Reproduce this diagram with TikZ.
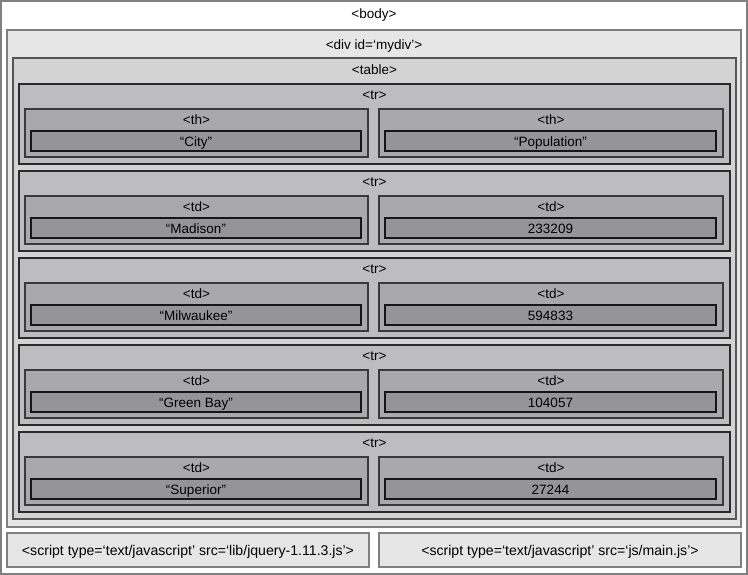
\documentclass[tikz,border=0pt]{standalone}
\usepackage{fontspec}
\setmainfont{Liberation Sans}
\usetikzlibrary{fit}

\definecolor{bodyline}{HTML}{808080}
\definecolor{divfill}{HTML}{E6E6E6}
\definecolor{divline}{HTML}{7F7F7F}
\definecolor{tablefill}{HTML}{D3D3D4}
\definecolor{tableline}{HTML}{555555}
\definecolor{trfill}{HTML}{BDBDC0}
\definecolor{trline}{HTML}{2A2A2A}
\definecolor{cellfill}{HTML}{A9A9AB}
\definecolor{cellline}{HTML}{3A3A3A}
\definecolor{valfill}{HTML}{959597}
\definecolor{valline}{HTML}{161616}

% a rectangle spanning (x1,y1)-(x2,y2), given as a named node
\newcommand\domregion[6]{%
  \path (#3,#4) coordinate (#1-nw) (#5,#6) coordinate (#1-se);
  \node[#2, fit=(#1-nw)(#1-se), inner sep=0pt] (#1) {};
}

\begin{document}
\begin{tikzpicture}[x=1pt, y=-1pt,
  tagtext/.style={font=\fontsize{13.5}{16}\selectfont, inner sep=0pt, anchor=base, text=black},
  scripttext/.style={tagtext, font=\fontsize{14.1}{16}\selectfont},
  bodybox/.style={draw=bodyline, fill=white, line width=2pt},
  divbox/.style={draw=divline, fill=divfill, line width=1.8pt},
  tablebox/.style={draw=tableline, fill=tablefill, line width=1.5pt},
  trbox/.style={draw=trline, fill=trfill, line width=1.2pt},
  cellbox/.style={draw=cellline, fill=cellfill, line width=1.2pt},
  valbox/.style={draw=valline, fill=valfill, line width=1.5pt},
  scriptbox/.style={draw=divline, fill=divfill, line width=1.5pt}]

\useasboundingbox (0,0) rectangle (748,575);

% page structure
\domregion{body}{bodybox}{1}{1}{747}{574}
\node[tagtext] (body-label) at ([yshift=-19pt]body.north) {<body>};

\domregion{mydiv}{divbox}{7}{30}{741}{527}
\node[tagtext] (mydiv-label) at ([yshift=-20pt]mydiv.north) {<div id=‘mydiv’>};

\domregion{table}{tablebox}{13}{58}{736}{519}
\node[tagtext] (table-label) at ([yshift=-17.5pt]table.north) {<table>};

% table rows
\foreach \i/\tag/\va/\vb in {0/th/“City”/“Population”,
                              1/td/“Madison”/233209,
                              2/td/“Milwaukee”/594833,
                              3/td/“Green Bay”/104057,
                              4/td/“Superior”/27244}{
  \pgfmathsetmacro\yo{87*\i}
  \domregion{tr\i}{trbox}{19}{84+\yo}{730}{164+\yo}
  \node[tagtext] (tr\i-label) at ([yshift=-16.5pt]tr\i.north) {<tr>};
  % left cell
  \domregion{cellA\i}{cellbox}{25}{109+\yo}{368}{157+\yo}
  \node[tagtext] (cellA\i-label) at ([yshift=-16pt]cellA\i.north) {<\tag>};
  \domregion{valA\i}{valbox}{31}{131+\yo}{361}{151+\yo}
  \node[tagtext] (valA\i-text) at ([yshift=-5.5pt]valA\i.center) {\va};
  % right cell
  \domregion{cellB\i}{cellbox}{379}{109+\yo}{723}{157+\yo}
  \node[tagtext] (cellB\i-label) at ([yshift=-16pt]cellB\i.north) {<\tag>};
  \domregion{valB\i}{valbox}{385}{131+\yo}{716}{151+\yo}
  \node[tagtext] (valB\i-text) at ([yshift=-5.5pt]valB\i.center) {\vb};
}

% script tags
\domregion{scriptA}{scriptbox}{7}{533}{369}{567}
\node[scripttext] (scriptA-text) at ([yshift=-5.5pt]scriptA.center) {<script type=‘text/javascript’ src=‘lib/jquery-1.11.3.js’>};
\domregion{scriptB}{scriptbox}{379}{533}{741}{567}
\node[scripttext] (scriptB-text) at ([yshift=-5.5pt]scriptB.center) {<script type=‘text/javascript’ src=‘js/main.js’>};

\end{tikzpicture}
\end{document}
